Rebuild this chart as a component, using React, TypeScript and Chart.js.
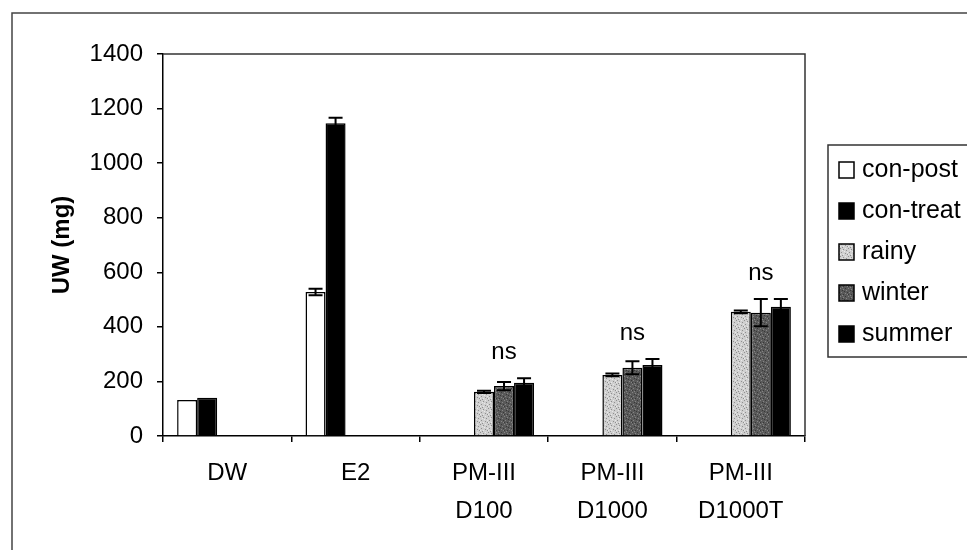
import React, { useEffect, useRef } from "react";
import { Chart, registerables } from "chart.js";

Chart.register(...registerables);

const categories: string[][] = [["DW"], ["E2"], ["PM-III", "D100"], ["PM-III", "D1000"], ["PM-III", "D1000T"]];
const seriesNames = ["con-post", "con-treat", "rainy", "winter", "summer"];

const conPost = [132, 528, null, null, null];
const conPostErr = [0, 12, 0, 0, 0];
const conTreat = [140, 1146, null, null, null];
const conTreatErr = [0, 20, 0, 0, 0];
const rainy = [null, null, 162, 224, 455];
const rainyErr = [0, 0, 4, 5, 5];
const winter = [null, null, 183, 250, 452];
const winterErr = [0, 0, 15, 24, 50];
const summer = [null, null, 195, 260, 474];
const summerErr = [0, 0, 17, 22, 28];
const sigLabels = ["", "", "ns", "ns", "ns"];

const yTicks = [0, 200, 400, 600, 800, 1000, 1200, 1400];

const FONT = "'Liberation Sans', Arial, Helvetica, sans-serif";

function makePattern(base: string, dotsA: string, dotsB: string) {
  const c = document.createElement("canvas");
  c.width = 8;
  c.height = 8;
  const g = c.getContext("2d")!;
  g.fillStyle = base;
  g.fillRect(0, 0, 8, 8);
  const a = [[0, 0], [3, 1], [6, 2], [1, 4], [5, 5], [2, 7], [7, 6]];
  const b = [[2, 2], [5, 0], [0, 6], [4, 3], [7, 4], [3, 6]];
  g.fillStyle = dotsA;
  a.forEach(([x, y]) => g.fillRect(x, y, 1, 1));
  g.fillStyle = dotsB;
  b.forEach(([x, y]) => g.fillRect(x, y, 1, 1));
  return g.createPattern(c, "repeat")!;
}

export default function App() {
  const ref = useRef<HTMLCanvasElement | null>(null);

  useEffect(() => {
    const canvas = ref.current!;
    const rainyFill = makePattern("#cfcfcf", "#8f8f8f", "#e8e8e8");
    const winterFill = makePattern("#5a5a5a", "#858585", "#383838");
    const fills: any[] = ["#ffffff", "#000000", rainyFill, winterFill, "#000000"];
    const values = [conPost, conTreat, rainy, winter, summer];
    const errs = [conPostErr, conTreatErr, rainyErr, winterErr, summerErr];

    const decor = {
      id: "decor",
      beforeDraw(chart: any) {
        const ctx = chart.ctx;
        ctx.save();
        ctx.fillStyle = "#ffffff";
        ctx.fillRect(0, 0, chart.width, chart.height);
        ctx.strokeStyle = "#444";
        ctx.lineWidth = 1.5;
        ctx.strokeRect(12, 13, 1000, 600);
        ctx.restore();
      },
      afterDatasetsDraw(chart: any) {
        const ctx = chart.ctx;
        const y = chart.scales.y;
        ctx.save();
        ctx.strokeStyle = "#000";
        ctx.lineWidth = 2;
        values.forEach((arr, di) => {
          const meta = chart.getDatasetMeta(di);
          arr.forEach((v, i) => {
            const e = errs[di][i];
            if (v == null || !e) return;
            const el = meta.data[i];
            const x = el.x;
            const yt = y.getPixelForValue(v + e);
            const yb = y.getPixelForValue(v - e);
            ctx.beginPath();
            ctx.moveTo(x, yt);
            ctx.lineTo(x, yb);
            ctx.moveTo(x - 7, yt);
            ctx.lineTo(x + 7, yt);
            ctx.moveTo(x - 7, yb);
            ctx.lineTo(x + 7, yb);
            ctx.stroke();
          });
        });
        ctx.fillStyle = "#000";
        ctx.font = `24px ${FONT}`;
        ctx.textAlign = "center";
        ctx.textBaseline = "middle";
        sigLabels.forEach((lab, i) => {
          if (!lab) return;
          let top = 0;
          values.forEach((arr, di) => {
            const v = arr[i];
            if (v != null) top = Math.max(top, v + errs[di][i]);
          });
          const x = chart.getDatasetMeta(3).data[i].x;
          ctx.fillText(lab, x, y.getPixelForValue(top) - 26);
        });
        ctx.restore();
      },
      afterDraw(chart: any) {
        const ctx = chart.ctx;
        const a = chart.chartArea;
        ctx.save();
        ctx.strokeStyle = "#333";
        ctx.lineWidth = 1.5;
        ctx.beginPath();
        ctx.moveTo(a.left, a.top);
        ctx.lineTo(a.right, a.top);
        ctx.lineTo(a.right, a.bottom);
        ctx.stroke();
        ctx.fillStyle = "#000";
        ctx.font = `bold 24px ${FONT}`;
        ctx.textAlign = "center";
        ctx.textBaseline = "middle";
        ctx.translate(62, (a.top + a.bottom) / 2);
        ctx.rotate(-Math.PI / 2);
        ctx.fillText("UW (mg)", 0, 0);
        ctx.setTransform(1, 0, 0, 1, 0, 0);
        ctx.strokeStyle = "#333";
        ctx.lineWidth = 1.5;
        ctx.strokeRect(828, 145, 200, 212);
        ctx.font = `25px ${FONT}`;
        ctx.textAlign = "left";
        seriesNames.forEach((name, i) => {
          const cy = 170 + i * 41;
          ctx.fillStyle = fills[i];
          ctx.fillRect(839, cy - 8, 15, 16);
          ctx.strokeStyle = "#000";
          ctx.lineWidth = 1.5;
          ctx.strokeRect(839, cy - 8, 15, 16);
          ctx.fillStyle = "#000";
          ctx.fillText(name, 862, cy);
        });
        ctx.restore();
      },
    };

    const chart = new Chart(canvas, {
      type: "bar",
      data: {
        labels: categories,
        datasets: values.map((arr, i) => ({
          label: seriesNames[i],
          data: arr,
          backgroundColor: fills[i],
          borderColor: "#000",
          borderWidth: 1.5,
          categoryPercentage: 0.78,
          barPercentage: 1.0,
        })),
      },
      options: {
        responsive: false,
        animation: false,
        devicePixelRatio: 1,
        layout: { padding: { left: 0, right: 162, top: 54, bottom: 0 } },
        plugins: { legend: { display: false }, tooltip: { enabled: false } },
        scales: {
          x: {
            grid: { display: true, offset: true, drawOnChartArea: false, drawTicks: true, tickLength: 6, color: "#000", lineWidth: 1.5 },
            border: { display: true, color: "#000", width: 1.5 },
            ticks: { color: "#000", font: { family: FONT, size: 24, lineHeight: 1.6 }, padding: 12, maxRotation: 0, autoSkip: false },
            afterFit: (s: any) => { s.height = 114; },
          },
          y: {
            min: 0,
            max: 1400,
            afterBuildTicks: (s: any) => { s.ticks = yTicks.map((v) => ({ value: v })); },
            grid: { display: true, drawOnChartArea: false, drawTicks: true, tickLength: 6, color: "#000", lineWidth: 1.5 },
            border: { display: true, color: "#000", width: 1.5 },
            ticks: { color: "#000", font: { family: FONT, size: 24 }, padding: 14, callback: (v: any) => String(v) },
            afterFit: (s: any) => { s.width = 163; },
          },
        },
      },
      plugins: [decor],
    } as any);
    return () => chart.destroy();
  }, []);

  return (
    <div style={{ position: "fixed", left: 0, top: 0, width: 967, height: 550, background: "#fff" }}>
      <canvas ref={ref} width={967} height={550} style={{ width: 967, height: 550, display: "block" }} />
    </div>
  );
}
